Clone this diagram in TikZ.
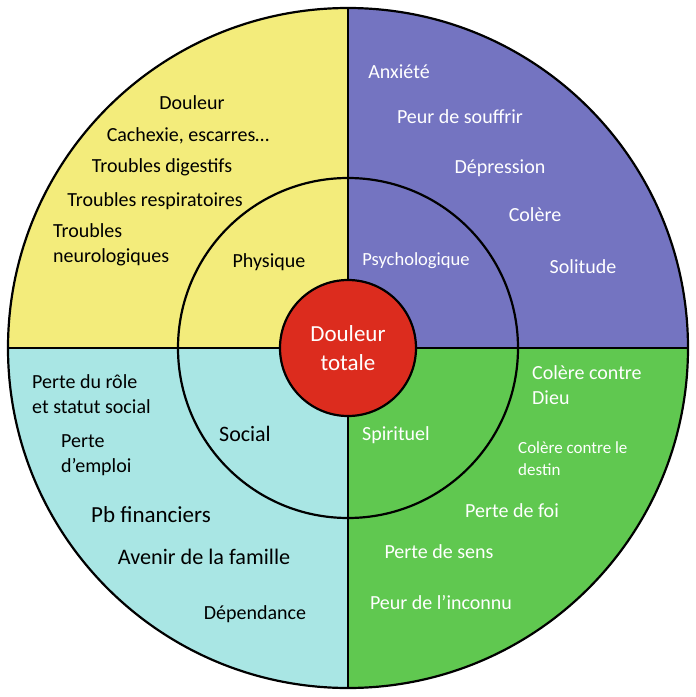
\documentclass[tikz,border=0pt]{standalone}
\usepackage{fontspec}
\setmainfont{Carlito}
\definecolor{physY}{HTML}{F3EC7B}
\definecolor{psyP}{HTML}{7474C1}
\definecolor{socC}{HTML}{A9E6E4}
\definecolor{spiG}{HTML}{60C850}
\definecolor{totR}{HTML}{DC2C1E}
\tikzset{
  lbl/.style={inner sep=0pt, font=\fontsize{20}{25}\selectfont, align=left},
  wlbl/.style={lbl, text=white},
  ring/.style={line width=2.2pt, black}
}
\begin{document}
\begin{tikzpicture}[x=1pt,y=1pt]
\useasboundingbox (-348,-349) rectangle (348,348);
% quarters
\fill[physY] (0,0) -- (180:340) arc(180:90:340) -- cycle;
\fill[psyP]  (0,0) -- (90:340) arc(90:0:340) -- cycle;
\fill[spiG]  (0,0) -- (0:340) arc(0:-90:340) -- cycle;
\fill[socC]  (0,0) -- (-90:340) arc(-90:-180:340) -- cycle;
\draw[ring] (0,0) circle(340);
\draw[ring] (0,0) circle(170);
\draw[ring] (-340,0) -- (340,0);
\draw[ring] (0,340) -- (0,-340);
\path
(0,0) node[circle,draw,line width=2.2pt,fill=totR,minimum size=136pt,inner sep=0pt,
  text=white,align=center,font=\fontsize{23}{29}\selectfont] (tot) {Douleur\\totale};

% physique
\path
(-156,245) node[lbl] (dou) {Douleur}
(-160,212) node[lbl] (cach) {Cachexie, escarres…}
(-186,181) node[lbl] (dig) {Troubles digestifs}
(-193,147) node[lbl] (resp) {Troubles respiratoires}
(-295,103.5) node[lbl,anchor=west] (neur) {Troubles\\neurologiques}
(-79,86) node[lbl] (phys) {Physique};

% psychologique
\path
(51,276) node[wlbl] (anx) {Anxiété}
(112,231) node[wlbl] (peur) {Peur de souffrir}
(152,180) node[wlbl] (dep) {Dépression}
(187,133) node[wlbl] (col) {Colère}
(68,87) node[wlbl,font=\fontsize{18.5}{22}\selectfont] (psy) {Psychologique}
(235,81) node[wlbl] (sol) {Solitude};

% social
\path
(-316,-46.5) node[lbl,anchor=west] (role) {Perte du rôle\\et statut social}
(-287,-107) node[lbl,anchor=west] (empl) {Perte\\d’emploi}
(-197,-167) node[lbl,font=\fontsize{23}{28}\selectfont] (fin) {Pb financiers}
(-144,-209) node[lbl,font=\fontsize{22.2}{27}\selectfont] (fam) {Avenir de la famille}
(-93,-266) node[lbl] (dpd) {Dépendance}
(-103,-86) node[lbl,font=\fontsize{22}{26}\selectfont] (soc) {Social};

% spirituel
\path
(184,-37.5) node[wlbl,anchor=west] (dieu) {Colère contre\\Dieu}
(170,-111) node[wlbl,anchor=west,font=\fontsize{17}{22}\selectfont] (dest) {Colère contre le\\destin}
(48,-87) node[wlbl] (spi) {Spirituel}
(164,-163) node[wlbl] (foi) {Perte de foi}
(91,-204) node[wlbl] (sens) {Perte de sens}
(93,-255) node[wlbl] (inc) {Peur de l’inconnu};
\end{tikzpicture}
\end{document}
